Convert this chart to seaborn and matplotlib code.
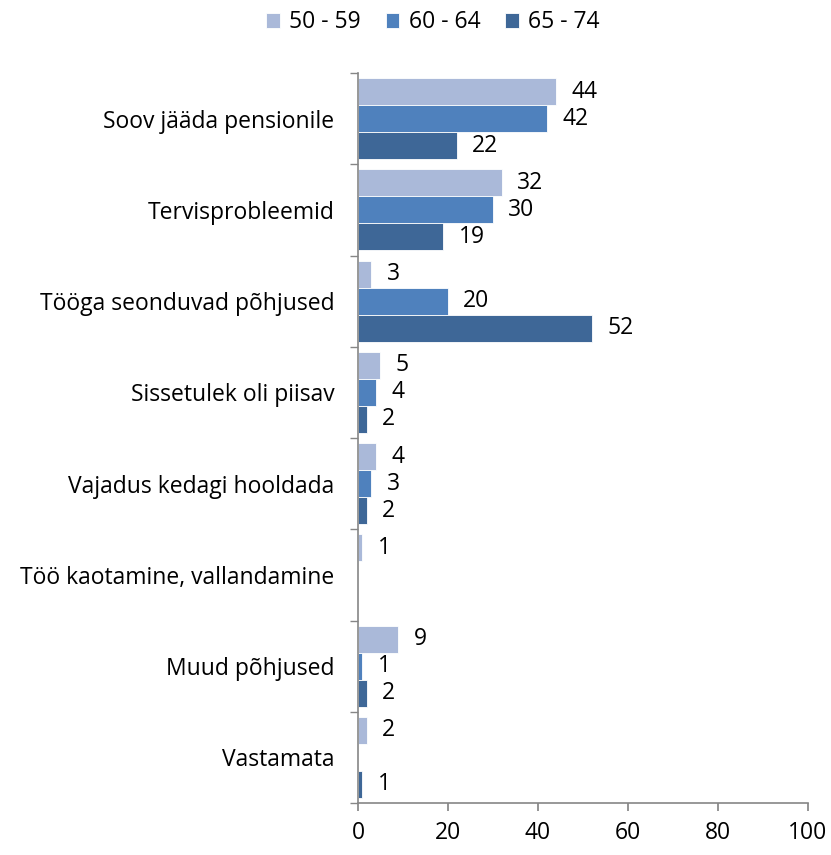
import pandas as pd
import numpy as np
import matplotlib.pyplot as plt
import seaborn as sns
from matplotlib.ticker import FixedLocator

# Andmed
categories = ["Soov jääda pensionile", "Tervisprobleemid", "Tööga seonduvad põhjused",
              "Sissetulek oli piisav", "Vajadus kedagi hooldada",
              "Töö kaotamine, vallandamine", "Muud põhjused", "Vastamata"]
age_groups = ["50 - 59", "60 - 64", "65 - 74"]
vals_50_59 = [44, 32, 3, 5, 4, 1, 9, 2]
vals_60_64 = [42, 30, 20, 4, 3, np.nan, 1, np.nan]
vals_65_74 = [22, 19, 52, 2, 2, np.nan, 2, 1]
colors = ["#AAB9D9", "#4F81BD", "#3E6797"]

rows = []
for grp, vals in zip(age_groups, [vals_50_59, vals_60_64, vals_65_74]):
    for cat, v in zip(categories, vals):
        rows.append({"Põhjus": cat, "Vanus": grp, "Osakaal": 0 if np.isnan(v) else v})
df = pd.DataFrame(rows)

sns.set_theme(style="white")
plt.rcParams['font.family'] = ['Open Sans', 'DejaVu Sans']

fig = plt.figure(figsize=(8.31, 8.55), dpi=100)
ax = fig.add_axes([0.4308, 0.0608, 0.5415, 0.8538])

sns.barplot(data=df, y="Põhjus", x="Osakaal", hue="Vanus", order=categories,
            hue_order=age_groups, palette=colors, saturation=1, orient="h", width=0.89,
            edgecolor="white", linewidth=0.6, ax=ax)

for cont, vals in zip(ax.containers, [vals_50_59, vals_60_64, vals_65_74]):
    labels = ["" if np.isnan(v) else f"{int(v)}" for v in vals]
    ax.bar_label(cont, labels=labels, padding=11, fontsize=16.5, color="black")

ax.set_xlim(0, 100)
ax.set_ylim(len(categories) - 0.5, -0.5)
ax.set_xticks([0, 20, 40, 60, 80, 100])
ax.set_xlabel("")
ax.set_ylabel("")

ax.yaxis.set_minor_locator(FixedLocator(np.arange(-0.5, len(categories), 1)))
ax.tick_params(axis="y", which="major", length=0, pad=17, labelsize=16.5, labelcolor="black")
ax.tick_params(axis="y", which="minor", length=6, color="#868686", direction="out", left=True)
ax.tick_params(axis="x", length=6, color="#868686", direction="out", bottom=True,
               labelsize=16.5, labelcolor="black", pad=7)

for side in ["top", "right"]:
    ax.spines[side].set_visible(False)
for side in ["left", "bottom"]:
    ax.spines[side].set_color("#868686")
    ax.spines[side].set_linewidth(1.2)

handles, labels = ax.get_legend_handles_labels()
leg = ax.legend(handles, labels, loc="upper center", bbox_to_anchor=(0.521, 1.012),
                bbox_transform=fig.transFigure, ncol=3, frameon=False, fontsize=16.5,
                handlelength=0.6, handleheight=0.6, handletextpad=0.4, columnspacing=1.1)
for t in leg.get_texts():
    t.set_color("black")

fig.savefig("out.png", dpi=100)
